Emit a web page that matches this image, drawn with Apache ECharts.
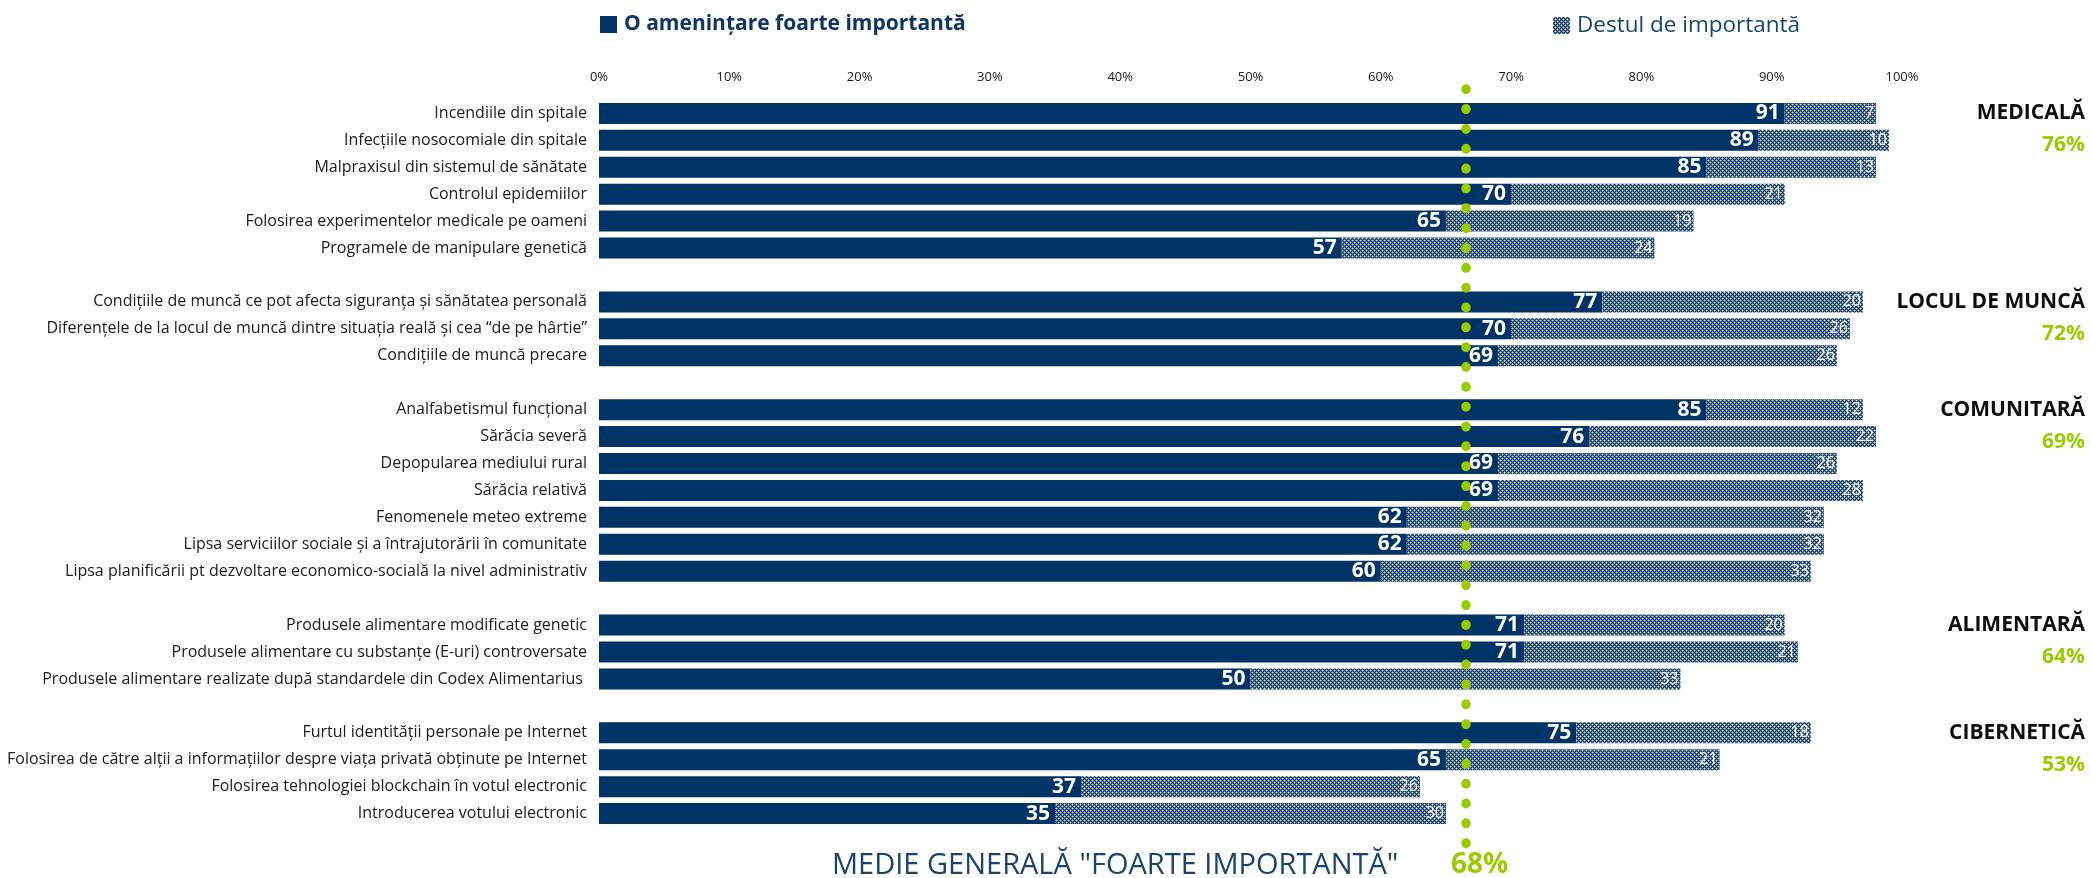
<!DOCTYPE html>
<html>
<head>
<meta charset="utf-8">
<script src="https://cdn.jsdelivr.net/npm/echarts@6/dist/echarts.min.js"></script>
<style>
  html, body { margin: 0; padding: 0; background: #fff; }
  #chart { width: 2091px; height: 878px; }
</style>
</head>
<body>
<div id="chart"></div>
<script>
// date
var categories = [
  'Incendiile din spitale',
  'Infecțiile nosocomiale din spitale',
  'Malpraxisul din sistemul de sănătate',
  'Controlul epidemiilor',
  'Folosirea experimentelor medicale pe oameni',
  'Programele de manipulare genetică',
  'Condițiile de muncă ce pot afecta siguranța și sănătatea personală',
  'Diferențele de la locul de muncă dintre situația reală și cea “de pe hârtie”',
  'Condițiile de muncă precare',
  'Analfabetismul funcțional',
  'Sărăcia severă',
  'Depopularea mediului rural',
  'Sărăcia relativă',
  'Fenomenele meteo extreme',
  'Lipsa serviciilor sociale și a întrajutorării în comunitate',
  'Lipsa planificării pt dezvoltare economico-socială la nivel administrativ',
  'Produsele alimentare modificate genetic',
  'Produsele alimentare cu substanțe (E-uri) controversate',
  'Produsele alimentare realizate după standardele din Codex Alimentarius ',
  'Furtul identității personale pe Internet',
  'Folosirea de către alții a informațiilor despre viața privată obținute pe Internet',
  'Folosirea tehnologiei blockchain în votul electronic',
  'Introducerea votului electronic'
];
var veryImportant   = [91, 89, 85, 70, 65, 57, 77, 70, 69, 85, 76, 69, 69, 62, 62, 60, 71, 71, 50, 75, 65, 37, 35];
var fairlyImportant = [7, 10, 13, 21, 19, 24, 20, 26, 26, 12, 22, 26, 28, 32, 32, 33, 20, 21, 33, 18, 21, 26, 30];

var groupNames  = ['MEDICALĂ', 'LOCUL DE MUNCĂ', 'COMUNITARĂ', 'ALIMENTARĂ', 'CIBERNETICĂ'];
var groupShares = ['76%', '72%', '69%', '64%', '53%'];
var groupSizes  = [6, 3, 7, 3, 4];

var avgLineAt = 66.5;      // unde e desenata linia punctata
var overallAvg = '68%';

var seriesNames = ['O amenințare foarte importantă', 'Destul de importantă'];

// randuri: un rand gol sus, intre grupuri si jos
var rowNames = [''], rowRight = [''], rowVery = ['-'], rowFair = ['-'];
var k = 0;
for (var g = 0; g < groupSizes.length; g++) {
  for (var j = 0; j < groupSizes[g]; j++) {
    rowNames.push(categories[k]);
    rowVery.push(veryImportant[k]);
    rowFair.push(fairlyImportant[k]);
    if (j === 0) rowRight.push('{g|' + groupNames[g] + '}');
    else if (j === 1) rowRight.push('{p|' + groupShares[g] + '}');
    else rowRight.push('');
    k++;
  }
  rowNames.push(''); rowRight.push(''); rowVery.push('-'); rowFair.push('-');
}

// textura pentru "Destul de importanta"
var makePattern = function () {
  var c = document.createElement('canvas');
  c.width = 4; c.height = 4;
  var ctx = c.getContext('2d');
  for (var y = 0; y < 4; y++) {
    for (var x = 0; x < 4; x++) {
      var col;
      if ((x === 0 && y === 0) || (x === 2 && y === 2)) col = '#ffffff';
      else if ((x + y) % 2 === 1) col = '#5f80aa';
      else col = '#0b3563';
      ctx.fillStyle = col;
      ctx.fillRect(x, y, 1, 1);
    }
  }
  return c;
};

var FONT = "'Open Sans', 'Noto Sans', sans-serif";

var chart = echarts.init(document.getElementById('chart'), null, { renderer: 'canvas' });

var option = {
  animation: false,
  backgroundColor: '#ffffff',
  textStyle: { fontFamily: FONT },
  title: [
    {
      text: 'MEDIE GENERALĂ "FOARTE IMPORTANTĂ"',
      left: 832, top: 851, padding: 0,
      textStyle: { fontFamily: FONT, fontSize: 29, fontWeight: 'normal', color: '#1a4272' }
    },
    {
      text: overallAvg,
      left: 1451, top: 851, padding: 0,
      textStyle: { fontFamily: FONT, fontSize: 28, fontWeight: 'bold', color: '#99cc00' }
    }
  ],
  legend: [
    {
      data: [seriesNames[0]],
      left: 600, top: 14, padding: 0,
      itemWidth: 17, itemHeight: 17, icon: 'rect',
      selectedMode: false,
      textStyle: { fontFamily: FONT, fontSize: 21, fontWeight: 'bold', color: '#0f3565', padding: [0, 0, 0, 2] }
    },
    {
      data: [seriesNames[1]],
      left: 1553, top: 14, padding: 0,
      itemWidth: 17, itemHeight: 17, icon: 'rect',
      selectedMode: false,
      textStyle: { fontFamily: FONT, fontSize: 22.5, color: '#1a4272', padding: [0, 0, 0, 2] }
    }
  ],
  grid: {
    left: 599, right: 189, top: 73, bottom: 24,
    containLabel: false,
    outerBoundsMode: 'none'
  },
  xAxis: {
    type: 'value',
    position: 'top',
    min: 0, max: 100, interval: 10,
    offset: -11,
    axisLine: { show: false },
    axisTick: { show: false },
    splitLine: { show: false },
    axisLabel: {
      margin: 0,
      fontFamily: FONT, fontSize: 13, color: '#202020',
      formatter: '{value}%'
    }
  },
  yAxis: [
    {
      type: 'category',
      inverse: true,
      data: rowNames,
      axisLine: { show: false },
      axisTick: { show: false },
      axisLabel: {
        interval: 0, margin: 12,
        fontFamily: FONT, fontSize: 16, color: '#202020'
      }
    },
    {
      type: 'category',
      inverse: true,
      position: 'right',
      data: rowRight,
      axisLine: { show: false },
      axisTick: { show: false },
      axisLabel: {
        interval: 0, margin: 183, align: 'right',
        rich: {
          g: { fontFamily: FONT, fontSize: 21, fontWeight: 'bold', color: '#0d0d0d' },
          p: { fontFamily: FONT, fontSize: 21, fontWeight: 'bold', color: '#99cc00', padding: [10, 0, 0, 0] }
        }
      }
    }
  ],
  series: [
    {
      name: seriesNames[0],
      type: 'bar',
      stack: 'total',
      barWidth: 21,
      data: rowVery,
      itemStyle: { color: '#003366' },
      label: {
        show: true, position: 'insideRight', distance: 5,
        fontFamily: FONT, fontSize: 21, fontWeight: 'bold', color: '#ffffff'
      },
      markLine: {
        silent: true,
        symbol: 'none',
        label: { show: false },
        lineStyle: { color: '#99cc00', width: 9.5, type: [0.5, 19.34], cap: 'round', dashOffset: 3.84, opacity: 1 },
        data: [{ xAxis: avgLineAt }]
      }
    },
    {
      name: seriesNames[1],
      type: 'bar',
      stack: 'total',
      barWidth: 21,
      data: rowFair,
      itemStyle: { color: { image: makePattern(), repeat: 'repeat' } },
      label: {
        show: true, position: 'insideRight', distance: 2,
        fontFamily: FONT, fontSize: 16, color: '#ffffff'
      }
    }
  ]
};

chart.setOption(option);
</script>
</body>
</html>
